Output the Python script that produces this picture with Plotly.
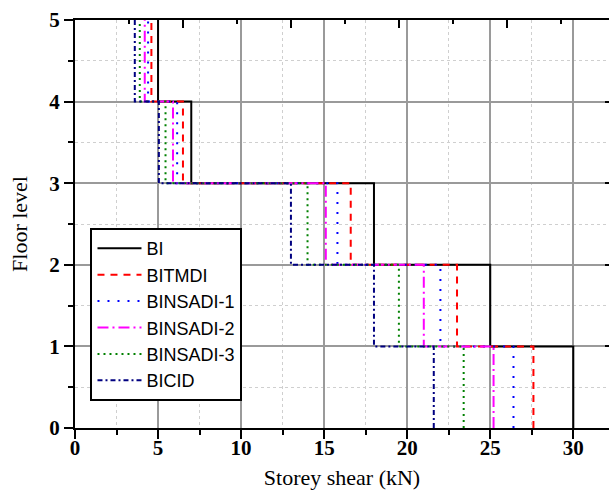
import plotly.graph_objects as go

# Storey shear (kN) acting in each storey, from the ground storey (0-1) up to the top (4-5)
floors = [0, 1, 2, 3, 4, 5]
series_names = ["BI", "BITMDI", "BINSADI-1", "BINSADI-2", "BINSADI-3", "BICID"]
shear_BI = [30.0, 25.0, 18.0, 7.0, 5.0]
shear_BITMDI = [27.6, 23.0, 16.6, 6.5, 4.6]
shear_BINSADI_1 = [26.4, 22.0, 15.8, 6.15, 4.4]
shear_BINSADI_2 = [25.2, 21.0, 15.1, 5.9, 4.2]
shear_BINSADI_3 = [23.4, 19.5, 14.0, 5.45, 3.9]
shear_BICID = [21.6, 18.0, 13.0, 5.05, 3.6]

x_ticks = [0, 5, 10, 15, 20, 25, 30]
y_ticks = [0, 1, 2, 3, 4, 5]

all_shear = [shear_BI, shear_BITMDI, shear_BINSADI_1, shear_BINSADI_2, shear_BINSADI_3, shear_BICID]
styles = [
    dict(color="#000000", dash="solid", width=2),
    dict(color="#FF0000", dash="7px,6px", width=2),
    dict(color="#0000FF", dash="2px,8px", width=2),
    dict(color="#FF00FF", dash="11px,4px,2px,4px", width=2),
    dict(color="#008000", dash="2px,4px", width=2),
    dict(color="#000080", dash="5px,3px,2px,3px", width=2),
]

fig = go.Figure()
for name, shear, st in zip(series_names, all_shear, styles):
    # storey profile: each storey value is held over its height, last value closes at the roof
    xs = list(shear) + [shear[-1]]
    fig.add_trace(go.Scatter(
        x=xs, y=floors, mode="lines", name=name,
        line=dict(shape="vh", **st),
        hoverinfo="skip",
    ))

# helper traces so the mirrored top and right axes get drawn
fig.add_trace(go.Scatter(x=[None], y=[None], xaxis="x2", yaxis="y", showlegend=False, hoverinfo="skip"))
fig.add_trace(go.Scatter(x=[None], y=[None], xaxis="x", yaxis="y2", showlegend=False, hoverinfo="skip"))

x_max = 32.15
tick_font = dict(family="Liberation Serif, Times New Roman, serif", size=21, color="black", weight="bold")
title_font = dict(family="Liberation Serif, Times New Roman, serif", size=22, color="black")

fig.update_layout(
    width=609, height=490,
    margin=dict(l=75, r=0, t=20, b=62),
    paper_bgcolor="white", plot_bgcolor="white",
    showlegend=True,
    legend=dict(
        x=0.029, y=0.49, xanchor="left", yanchor="top",
        bgcolor="white", bordercolor="black", borderwidth=2,
        font=dict(family="Liberation Sans, Arial, sans-serif", size=18, color="black"),
        itemwidth=44, tracegroupgap=0,
    ),
    xaxis=dict(
        range=[0, x_max], tickvals=x_ticks, ticktext=[str(v) for v in x_ticks],
        ticks="outside", ticklen=9, tickwidth=2, tickcolor="black",
        ticklabelstandoff=-9,
        showline=True, linecolor="black", linewidth=2,
        showgrid=True, gridcolor="#9a9a9a", gridwidth=2,
        minor=dict(dtick=2.5, tick0=0, ticks="outside", ticklen=5, tickwidth=2, tickcolor="black",
                   showgrid=True, gridcolor="#cfcfcf", gridwidth=1, griddash="dot"),
        tickfont=tick_font, zeroline=False,
        title=dict(text="Storey shear (kN)", font=title_font, standoff=12),
    ),
    xaxis2=dict(
        overlaying="x", side="top", anchor="y", range=[0, x_max],
        tick0=0, dtick=6.5, ticks="inside", ticklen=8, tickwidth=2, tickcolor="black",
        minor=dict(dtick=3.25, tick0=0, ticks="inside", ticklen=4, tickwidth=2, tickcolor="black"),
        showticklabels=False, showgrid=False, zeroline=False,
        showline=True, linecolor="black", linewidth=2,
    ),
    yaxis=dict(
        range=[0, 5], tickvals=y_ticks, ticktext=[str(v) for v in y_ticks],
        ticks="outside", ticklen=9, tickwidth=2, tickcolor="black",
        showline=True, linecolor="black", linewidth=2,
        showgrid=True, gridcolor="#9a9a9a", gridwidth=2,
        minor=dict(dtick=0.5, tick0=0, ticks="outside", ticklen=5, tickwidth=2, tickcolor="black",
                   showgrid=True, gridcolor="#cfcfcf", gridwidth=1, griddash="dot"),
        tickfont=tick_font, zeroline=False,
        title=dict(text="Floor level", font=title_font, standoff=16),
    ),
    yaxis2=dict(
        overlaying="y", side="right", anchor="x", range=[0, 5],
        tickvals=y_ticks, ticks="inside", ticklen=4, tickwidth=2, tickcolor="black",
        showticklabels=False, showgrid=False, zeroline=False, showline=False,
    ),
)

fig.write_html("out.html")
